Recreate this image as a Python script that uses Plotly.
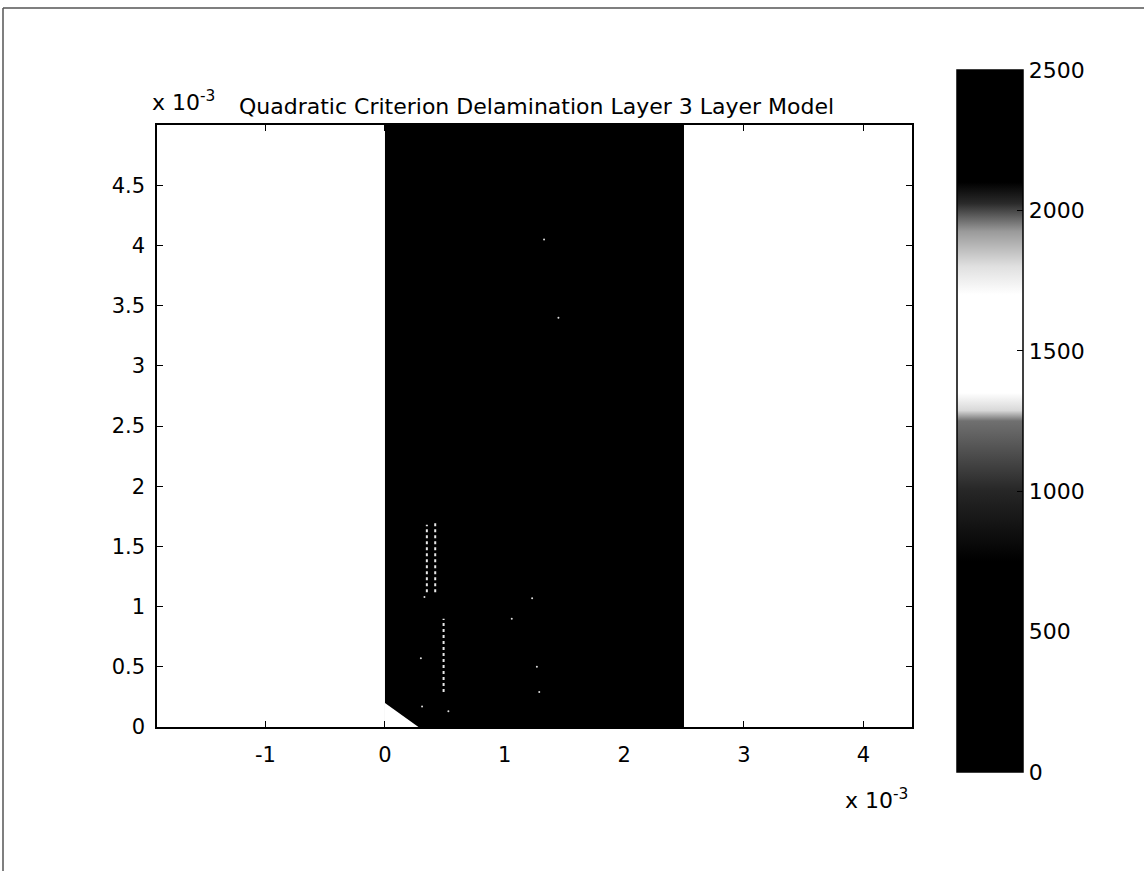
import plotly.graph_objects as go

# ---------------- data ----------------
# field grid (bin edges, metres) and failure-index values (all in dark band)
x_edges = [0.0, 0.0005, 0.0010, 0.0015, 0.0020, 0.0025]
y_edges = [0.0, 0.0005, 0.0010, 0.0015, 0.0020, 0.0025, 0.0030, 0.0035, 0.0040, 0.0045, 0.0050]
z_values = [
    [420, 380, 350, 330, 320],
    [400, 360, 340, 320, 310],
    [380, 350, 330, 310, 300],
    [360, 340, 320, 300, 290],
    [340, 320, 300, 290, 280],
    [320, 300, 290, 280, 270],
    [300, 290, 280, 270, 260],
    [290, 280, 270, 260, 250],
    [280, 270, 260, 250, 240],
    [270, 260, 250, 240, 230],
]
# light streaks (x position, y start, y end)
streak_x = [0.00035, 0.00042, 0.00049]
streak_y0 = [0.00112, 0.00112, 0.00029]
streak_y1 = [0.00168, 0.00171, 0.00090]
# isolated light specks
speck_x = [0.00033, 0.00030, 0.00053, 0.00106, 0.00127, 0.00129, 0.00123, 0.00031, 0.00133, 0.00145]
speck_y = [0.00108, 0.00057, 0.00013, 0.00090, 0.00050, 0.00029, 0.00107, 0.00017, 0.00405, 0.00340]
# undefined region near origin
cut_x = [0.0, 0.0, 0.00028, 0.0]
cut_y = [0.00020, 0.0, 0.0, 0.00020]

x_tick_vals = [-0.001, 0.0, 0.001, 0.002, 0.003, 0.004]
x_tick_text = ["-1", "0", "1", "2", "3", "4"]
y_tick_vals = [0.0, 0.0005, 0.001, 0.0015, 0.002, 0.0025, 0.003, 0.0035, 0.004, 0.0045]
y_tick_text = ["0", "0.5", "1", "1.5", "2", "2.5", "3", "3.5", "4", "4.5"]
cb_tick_vals = [0, 500, 1000, 1500, 2000, 2500]
cb_tick_text = ["0", "500", "1000", "1500", "2000", "2500"]

title_text = "Quadratic Criterion Delamination Layer 3 Layer Model"

# ---------------- figure ----------------
FONT = "DejaVu Sans"
W, H = 1144, 871
L, R, T, B = 157, 912, 125, 727

colorscale = [
    [0.00, "#000000"],
    [0.30, "#000000"],
    [0.40, "#262626"],
    [0.50, "#707070"],
    [0.515, "#d8d8d8"],
    [0.54, "#ffffff"],
    [0.68, "#ffffff"],
    [0.72, "#e0e0e0"],
    [0.77, "#9a9a9a"],
    [0.81, "#2a2a2a"],
    [0.84, "#000000"],
    [1.00, "#000000"],
]

fig = go.Figure()

fig.add_trace(go.Heatmap(
    x=x_edges, y=y_edges, z=z_values,
    zmin=0, zmax=2500, colorscale=colorscale, zsmooth=False,
    hoverinfo="skip",
    colorbar=dict(
        lenmode="pixels", len=702,
        thicknessmode="pixels", thickness=66,
        x=(957 - L) / (R - L), xanchor="left", xpad=0,
        y=(B - 421) / (B - T), yanchor="middle", ypad=0,
        outlinewidth=1.5, outlinecolor="black",
        tickvals=cb_tick_vals, ticktext=cb_tick_text,
        ticks="inside", ticklen=6, tickcolor="black", tickwidth=1,
        tickfont=dict(family=FONT, size=22, color="black"),
    ),
))

fig.add_trace(go.Scatter(
    x=cut_x, y=cut_y, mode="lines", fill="toself",
    fillcolor="white", line=dict(color="white", width=0),
    hoverinfo="skip", showlegend=False,
))

for sx, s0, s1 in zip(streak_x, streak_y0, streak_y1):
    fig.add_trace(go.Scatter(
        x=[sx, sx], y=[s0, s1], mode="lines",
        line=dict(color="#e8e8e8", width=2, dash="dot"),
        hoverinfo="skip", showlegend=False,
    ))

fig.add_trace(go.Scatter(
    x=speck_x, y=speck_y, mode="markers",
    marker=dict(color="#dddddd", size=2),
    hoverinfo="skip", showlegend=False,
))

axis_common = dict(
    showgrid=False, zeroline=False,
    showline=True, linecolor="black", linewidth=1.5, mirror="ticks",
    ticks="inside", ticklen=6, tickcolor="black", tickwidth=1,
    tickfont=dict(family=FONT, size=21, color="black"),
)

fig.update_layout(
    width=W, height=H,
    margin=dict(l=L, r=W - R, t=T, b=H - B),
    paper_bgcolor="white", plot_bgcolor="white",
    showlegend=False,
    xaxis=dict(range=[-0.001906, 0.004406], tickvals=x_tick_vals, ticktext=x_tick_text,
               ticklabelstandoff=8, **axis_common),
    yaxis=dict(range=[0, 0.005], tickvals=y_tick_vals, ticktext=y_tick_text,
               ticklabelstandoff=6, **axis_common),
    annotations=[
        dict(text=title_text, xref="paper", yref="paper",
             x=(237 - L) / (R - L), y=(B - 106) / (B - T), xanchor="left", yanchor="middle",
             showarrow=False, font=dict(family=FONT, size=22, color="black")),
        dict(text="x 10<sup>-3</sup>", xref="paper", yref="paper",
             x=(150 - L) / (R - L), y=(B - 101) / (B - T), xanchor="left", yanchor="middle",
             showarrow=False, font=dict(family=FONT, size=22, color="black")),
        dict(text="x 10<sup>-3</sup>", xref="paper", yref="paper",
             x=(843 - L) / (R - L), y=(B - 799) / (B - T), xanchor="left", yanchor="middle",
             showarrow=False, font=dict(family=FONT, size=22, color="black")),
    ],
    shapes=[
        dict(type="line", xref="paper", yref="paper",
             x0=(3 - L) / (R - L), x1=(3 - L) / (R - L),
             y0=(B - 8) / (B - T), y1=(B - 871) / (B - T),
             line=dict(color="#555555", width=1.5)),
        dict(type="line", xref="paper", yref="paper",
             x0=(3 - L) / (R - L), x1=(1144 - L) / (R - L),
             y0=(B - 8) / (B - T), y1=(B - 8) / (B - T),
             line=dict(color="#555555", width=1.5)),
    ],
)

fig.write_html("out.html")
